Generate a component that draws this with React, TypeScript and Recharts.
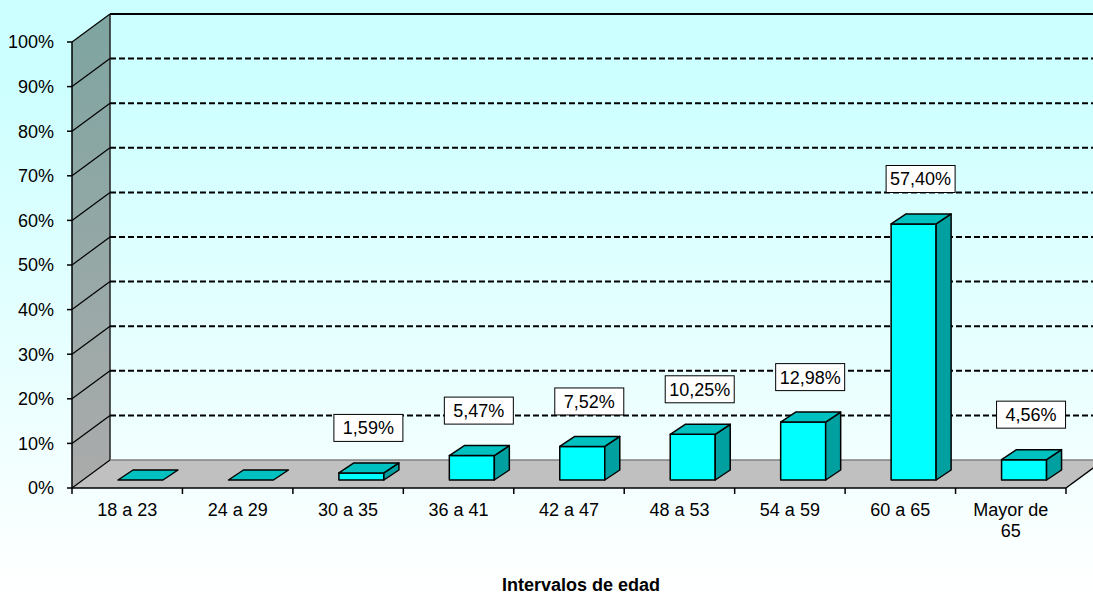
import React from 'react'
import { BarChart, Bar, XAxis, YAxis, CartesianGrid, LabelList, Label, Customized, Text } from 'recharts'

// age brackets and share of people in each one (%)
const categories = ['18 a 23', '24 a 29', '30 a 35', '36 a 41', '42 a 47', '48 a 53', '54 a 59', '60 a 65', 'Mayor de 65']
const percentages = [0, 0, 1.59, 5.47, 7.52, 10.25, 12.98, 57.4, 4.56]
const yTicks = [0, 10, 20, 30, 40, 50, 60, 70, 80, 90, 100]

const data = categories.map((name, i) => ({ name, value: percentages[i] }))

// chart frame (front plane of the plot + oblique depth of the 3d walls)
const W = 1093
const H = 595
const LEFT = 72
const RIGHT = 1066
const TOP = 42
const BOTTOM = 488
const DEPTH_X = 38
const DEPTH_Y = 28
const BAR_SHIFT_X = 13
const BAR_SHIFT_Y = 8
const BOX_DX = 15
const BOX_DY = 10
const BAND = (RIGHT - LEFT) / categories.length
const FONT = '"Liberation Sans", Arial, sans-serif'

const fmt = (v: number) => v.toFixed(2).replace('.', ',') + '%'

const Walls = () => (
    <g>
        <defs>
            <linearGradient id="sideWall" x1="0" y1="0" x2="0" y2="1">
                <stop offset="0" stopColor="#7ea5a1" />
                <stop offset="1" stopColor="#ababab" />
            </linearGradient>
        </defs>
        <polygon
            points={`${LEFT},${BOTTOM} ${RIGHT},${BOTTOM} ${RIGHT + DEPTH_X},${BOTTOM - DEPTH_Y} ${LEFT + DEPTH_X},${BOTTOM - DEPTH_Y}`}
            fill="#c0c0c0"
        />
        <polygon
            points={`${LEFT},${TOP} ${LEFT + DEPTH_X},${TOP - DEPTH_Y} ${LEFT + DEPTH_X},${BOTTOM - DEPTH_Y} ${LEFT},${BOTTOM}`}
            fill="url(#sideWall)"
        />
        <line x1={LEFT + DEPTH_X} y1={TOP - DEPTH_Y} x2={LEFT + DEPTH_X} y2={BOTTOM - DEPTH_Y} stroke="#222" strokeWidth={1.5} />
        <line x1={RIGHT} y1={BOTTOM} x2={RIGHT + DEPTH_X} y2={BOTTOM - DEPTH_Y} stroke="#000" strokeWidth={1.5} />
    </g>
)

const WallGridLine = (props: any) => {
    const y = props.y1
    const isFloor = Math.abs(y - BOTTOM) < 1
    const isTop = Math.abs(y - TOP) < 1
    return (
        <g key={`grid-${y}`}>
            <line x1={LEFT} y1={y} x2={LEFT + DEPTH_X} y2={y - DEPTH_Y} stroke="#000" strokeWidth={1.2} />
            <line
                x1={LEFT + DEPTH_X}
                y1={y - DEPTH_Y}
                x2={W}
                y2={y - DEPTH_Y}
                stroke={isFloor ? '#808080' : '#000'}
                strokeWidth={isTop ? 2 : isFloor ? 1.5 : 2}
                strokeDasharray={isFloor || isTop ? undefined : '6 3'}
            />
        </g>
    )
}

const Box3D = (props: any) => {
    const { x, y, width, height } = props
    const h = Math.max(height || 0, 0)
    const fx = x + BAR_SHIFT_X
    const fy = y - BAR_SHIFT_Y
    const top = `${fx},${fy} ${fx + BOX_DX},${fy - BOX_DY} ${fx + width + BOX_DX},${fy - BOX_DY} ${fx + width},${fy}`
    const side = `${fx + width},${fy} ${fx + width + BOX_DX},${fy - BOX_DY} ${fx + width + BOX_DX},${fy + h - BOX_DY} ${fx + width},${fy + h}`
    return (
        <g stroke="#000" strokeWidth={1.5} strokeLinejoin="round">
            {h > 0 && <rect x={fx} y={fy} width={width} height={h} fill="#00ffff" />}
            {h > 0 && <polygon points={side} fill="#00a0a0" />}
            <polygon points={top} fill="#00c0c0" />
        </g>
    )
}

const ValueBadge = (props: any) => {
    const { x, y, width, value } = props
    if (!value) return null
    const cx = x + width / 2 + BAR_SHIFT_X + 7
    const cy = y - BAR_SHIFT_Y - 45
    return (
        <g>
            <rect x={cx - 34.5} y={cy - 13.5} width={69} height={27} fill="#fff" stroke="#000" strokeWidth={1} />
            <text x={cx} y={cy} dy="0.36em" textAnchor="middle" fontSize={18} fontFamily={FONT} fill="#000">
                {fmt(value)}
            </text>
        </g>
    )
}

const CategoryTick = (props: any) => {
    const { x, payload, index } = props
    const last = index === categories.length - 1
    return (
        <g>
            <line x1={x - BAND / 2} y1={BOTTOM} x2={x - BAND / 2} y2={BOTTOM + 6} stroke="#000" strokeWidth={1.5} />
            {last && <line x1={x + BAND / 2} y1={BOTTOM} x2={x + BAND / 2} y2={BOTTOM + 6} stroke="#000" strokeWidth={1.5} />}
            <Text
                x={x}
                y={503}
                width={72}
                textAnchor="middle"
                verticalAnchor="start"
                lineHeight={21}
                fontSize={18}
                fontFamily={FONT}
                fill="#000"
            >
                {payload.value}
            </Text>
        </g>
    )
}

export default function App() {
    return (
        <div
            style={{
                position: 'absolute',
                left: 0,
                top: 0,
                width: W,
                height: H,
                background: 'linear-gradient(to bottom, #ccffff 0%, #ccffff 12%, #ffffff 100%)',
            }}
        >
            <BarChart
                width={W}
                height={H}
                data={data}
                margin={{ top: TOP, right: W - RIGHT, bottom: 0, left: 0 }}
                barSize={45}
            >
                <Customized component={Walls} />
                <CartesianGrid horizontal={WallGridLine} vertical={false} zIndex={100} />
                <YAxis
                    width={LEFT}
                    domain={[0, 100]}
                    ticks={yTicks}
                    interval={0}
                    tickFormatter={(v: number) => `${v}%`}
                    axisLine={{ stroke: '#000', strokeWidth: 1.5 }}
                    tickLine={{ stroke: '#000', strokeWidth: 1.5 }}
                    tickSize={5}
                    tickMargin={13}
                    tick={{ fill: '#000', fontSize: 18, fontFamily: FONT }}
                />
                <XAxis
                    dataKey="name"
                    height={H - BOTTOM}
                    interval={0}
                    axisLine={{ stroke: '#000', strokeWidth: 1.5 }}
                    tickLine={false}
                    tick={<CategoryTick />}
                >
                    <Label
                        value="Intervalos de edad"
                        position="insideBottom"
                        offset={4}
                        dx={12}
                        style={{ fontSize: 18, fontWeight: 'bold', fontFamily: FONT, fill: '#000' }}
                    />
                </XAxis>
                <Bar dataKey="value" shape={<Box3D />} isAnimationActive={false}>
                    <LabelList dataKey="value" content={<ValueBadge />} />
                </Bar>
            </BarChart>
        </div>
    )
}
